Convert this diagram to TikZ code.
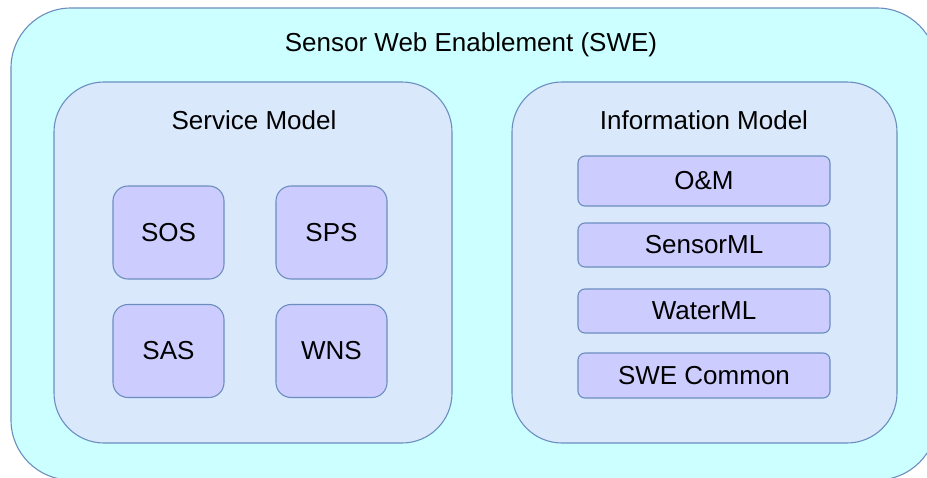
\documentclass[tikz,border=0pt]{standalone}
\usepackage{fontspec}
\setmainfont{Liberation Sans}
\definecolor{outerfill}{HTML}{CCFFFF}
\definecolor{midfill}{HTML}{DAE8FC}
\definecolor{innerfill}{HTML}{CCCCFF}
\definecolor{edge}{HTML}{6C8EBF}
\begin{document}
\begin{tikzpicture}[x=1pt,y=-1pt,
  base/.style={draw=edge,line width=1.1pt,inner sep=0pt,font=\fontsize{26}{31}\selectfont},
  outerbox/.style={base,fill=outerfill,rounded corners=60pt},
  midbox/.style={base,fill=midfill,rounded corners=50pt},
  svcbox/.style={base,fill=innerfill,rounded corners=15pt,minimum width=111pt,minimum height=93pt},
  infobox/.style={base,fill=innerfill,rounded corners=7pt,minimum width=252pt},
  lbl/.style={inner sep=0pt,font=\fontsize{26}{31}\selectfont}]
\useasboundingbox (0,0) rectangle (927,477);
\fill[white] (0,0) rectangle (927,477);
\node[outerbox,minimum width=926pt,minimum height=472pt] (swe) at (474,244) {};
\node[lbl] (swet) at (471,45) {Sensor Web Enablement (SWE)};
\node[midbox,minimum width=398pt,minimum height=361pt] (svc) at (253,262.5) {};
\node[lbl] (svct) at (254,120) {Service Model};
\node[midbox,minimum width=385pt,minimum height=361pt] (info) at (704.5,262.5) {};
\node[lbl] (infot) at (704,120) {Information Model};
\node[svcbox] (sos) at (168.5,232.5) {SOS};
\node[svcbox] (sps) at (331.5,232.5) {SPS};
\node[svcbox] (sas) at (168.5,351) {SAS};
\node[svcbox] (wns) at (331.5,351) {WNS};
\node[infobox,minimum height=50pt] (om) at (704,181) {O\&M};
\node[infobox,minimum height=44pt] (sml) at (704,245) {SensorML};
\node[infobox,minimum height=44pt] (wml) at (704,311) {WaterML};
\node[infobox,minimum height=45pt] (swec) at (704,375.5) {SWE Common};
\end{tikzpicture}
\end{document}
